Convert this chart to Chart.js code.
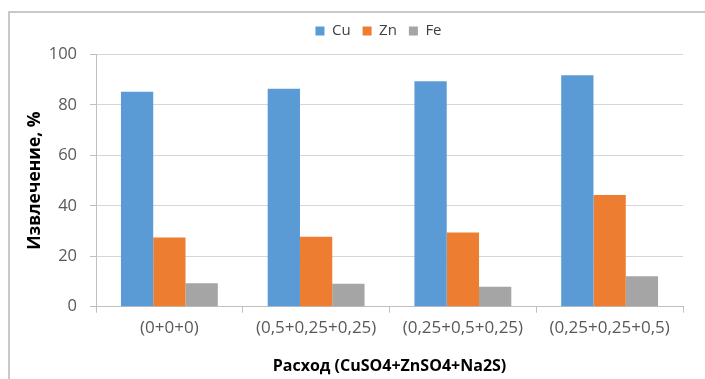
<!DOCTYPE html>
<html>
<head>
<meta charset="utf-8">
<script src="https://cdn.jsdelivr.net/npm/chart.js@4/dist/chart.umd.min.js"></script>
<style>
  html, body { margin: 0; padding: 0; background: #fff; }
  #wrap { position: relative; width: 705px; height: 379px; }
  #frame { position: absolute; left: 8px; top: 11px; right: 0; bottom: 0;
           border-left: 2px solid #c9c9c9; border-top: 2px solid #c9c9c9; pointer-events: none; }
  canvas { position: absolute; left: 0; top: 0; }
</style>
</head>
<body>
<div id="wrap">
  <canvas id="chart" width="705" height="379"></canvas>
  <div id="frame"></div>
</div>
<script>
// Reagent dosage combinations (CuSO4 + ZnSO4 + Na2S)
const categories = ['(0+0+0)', '(0,5+0,25+0,25)', '(0,25+0,5+0,25)', '(0,25+0,25+0,5)'];
// Recovery, %
const cuValues = [85.2, 86.4, 89.4, 91.8];
const znValues = [27.4, 27.7, 29.4, 44.3];
const feValues = [9.3, 9.1, 7.9, 12.1];
// Value axis
const yMin = 0;
const yMax = 100;
const yStep = 20;

const FONT = "'Open Sans', 'DejaVu Sans', sans-serif";
const GRID = '#d6d6d6';
const AXIS = '#bfbfbf';
const TICK_TEXT = '#595959';

// Leaves a little extra room under the legend and nudges it sideways.
const legendSpacing = {
  id: 'legendSpacing',
  beforeLayout(chart, args, opts) {
    const lg = chart.legend;
    if (lg && !lg.__spaced) {
      const fit = lg.fit.bind(lg);
      lg.fit = function () { fit(); this.height += opts.extra || 0; };
      lg.__spaced = true;
    }
  },
  afterLayout(chart, args, opts) {
    const lg = chart.legend;
    if (lg && opts.shift) { lg.left += opts.shift; lg.right += opts.shift; }
  }
};

new Chart(document.getElementById('chart'), {
  type: 'bar',
  data: {
    labels: categories,
    datasets: [
      { label: 'Cu', data: cuValues, backgroundColor: '#5B9BD5' },
      { label: 'Zn', data: znValues, backgroundColor: '#ED7D31' },
      { label: 'Fe', data: feValues, backgroundColor: '#A5A5A5' }
    ]
  },
  plugins: [legendSpacing],
  options: {
    responsive: false,
    animation: false,
    devicePixelRatio: 1,
    datasets: { bar: { barPercentage: 1, categoryPercentage: 0.66 } },
    layout: { padding: { top: 11.5, right: 22, bottom: 0, left: 0 } },
    plugins: {
      tooltip: { enabled: false },
      legendSpacing: { extra: 6, shift: -11 },
      legend: {
        position: 'top',
        align: 'center',
        fullSize: false,
        labels: {
          boxWidth: 9, boxHeight: 9, padding: 12,
          color: '#404040',
          font: { family: FONT, size: 15 }
        }
      }
    },
    scales: {
      x: {
        grid: { drawOnChartArea: false, drawTicks: true, tickLength: 6, color: AXIS, offset: true },
        border: { color: AXIS },
        ticks: { color: TICK_TEXT, font: { family: FONT, size: 17 }, padding: 5, maxRotation: 0, autoSkip: false },
        title: {
          display: true,
          text: 'Расход (CuSO4+ZnSO4+Na2S)',
          color: '#000',
          font: { family: FONT, size: 16, weight: 'bold' },
          padding: { top: 4, bottom: 3 }
        },
        afterFit: s => { s.height = 72.3; }
      },
      y: {
        min: yMin, max: yMax,
        ticks: { stepSize: yStep, color: TICK_TEXT, font: { family: FONT, size: 16.5, lineHeight: 1.0 }, padding: 13 },
        grid: { color: GRID, tickLength: 6, tickColor: AXIS },
        border: { color: AXIS },
        title: {
          display: true,
          text: 'Извлечение, %',
          color: '#000',
          font: { family: FONT, size: 17.5, weight: 'bold' },
          padding: { top: 25, bottom: 4 }
        },
        afterFit: s => { s.width = 96; }
      }
    }
  }
});
</script>
</body>
</html>
